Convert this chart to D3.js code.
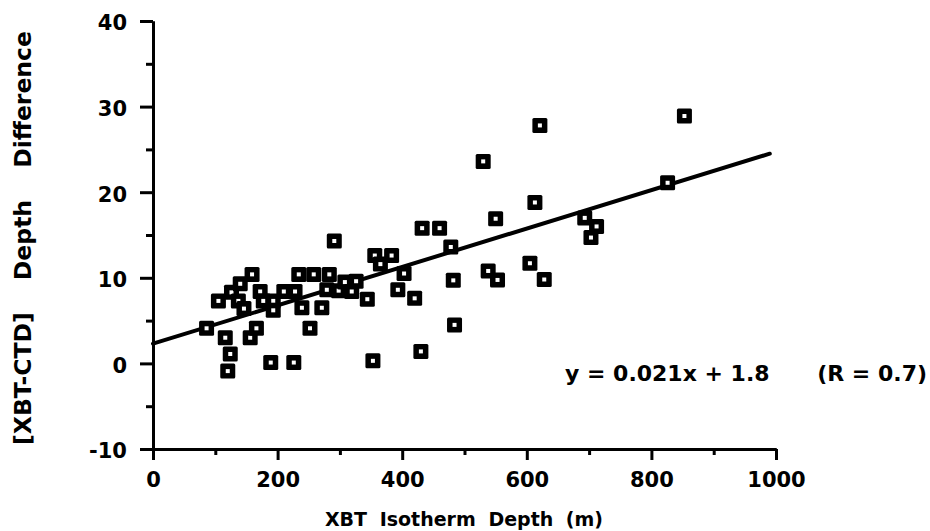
<!DOCTYPE html>
<html><head><meta charset="utf-8">
<script src="https://cdn.jsdelivr.net/npm/d3@7"></script>
<style>body{margin:0;background:#fff}svg{display:block}</style>
</head><body><svg id="c" width="930" height="531"></svg>
<script>
// XBT isotherm depth (m)
const depthX = [86,105,116,124,120,126,137,140,146,159,156,166,172,177,193,193,189,210,228,226,234,239,252,258,271,279,283,291,298,308,319,326,344,353,356,383,365,393,403,420,430,432,460,478,482,484,530,538,550,553,605,613,621,628,693,703,712,826,853];
// [XBT-CTD] depth difference
const diffY = [4.1,7.3,3.0,1.1,-0.9,8.3,7.3,9.3,6.4,10.4,3.0,4.1,8.4,7.3,7.3,6.2,0.1,8.4,8.4,0.1,10.4,6.5,4.1,10.4,6.5,8.6,10.4,14.3,8.5,9.5,8.4,9.6,7.5,0.3,12.6,12.6,11.6,8.6,10.5,7.6,1.4,15.8,15.8,13.6,9.7,4.5,23.6,10.8,16.9,9.75,11.7,18.8,27.8,9.8,17.0,14.7,16.0,21.1,28.9];
// regression line end points
const fitX = [0, 990];
const fitY = [2.3, 24.5];
const xTicks = [0,200,400,600,800,1000];
const xMinor = [100,300,500,700,900];
const yTicks = [-10,0,10,20,30,40];
const yMinor = [-5,5,15,25,35];
const xTitle = "XBT Isotherm Depth (m)";
const yTitle = "[XBT-CTD] Depth Difference";
const eqLabel = "y = 0.021x + 1.8";
const rLabel = "(R = 0.7)";

const FONT = "'DejaVu Sans', sans-serif";
const svg = d3.select("#c");
const x = d3.scaleLinear().domain([0,1000]).range([153,776]);
const y = d3.scaleLinear().domain([-10,40]).range([449,21]);
const fmt = d => String(d);

function styleAxis(g){
  g.select(".domain").attr("stroke","#000").attr("stroke-width",3);
  g.selectAll(".tick line").attr("stroke","#000").attr("stroke-width",3);
  g.selectAll(".tick text").attr("font-family",FONT).attr("font-weight","bold")
   .attr("font-size",21).attr("fill","#000");
}

// minor ticks
svg.append("g").attr("transform",`translate(0,${y(-10)})`)
  .call(d3.axisBottom(x).tickValues(xMinor).tickSize(6).tickSizeOuter(0).tickFormat(""))
  .call(styleAxis);
svg.append("g").attr("transform",`translate(${x(0)},0)`)
  .call(d3.axisLeft(y).tickValues(yMinor).tickSize(7).tickSizeOuter(0).tickFormat(""))
  .call(styleAxis);
// major ticks
const gx = svg.append("g").attr("transform",`translate(0,${y(-10)})`)
  .call(d3.axisBottom(x).tickValues(xTicks).tickSize(11).tickSizeOuter(0).tickFormat(fmt))
  .call(styleAxis);
gx.selectAll(".tick text").attr("dy","0.71em").attr("y",23);
const gy = svg.append("g").attr("transform",`translate(${x(0)},0)`)
  .call(d3.axisLeft(y).tickValues(yTicks).tickSize(13).tickSizeOuter(0).tickPadding(13).tickFormat(fmt))
  .call(styleAxis);
gy.selectAll(".tick text").attr("dy","0.42em");

// regression line
svg.append("line")
  .attr("x1",x(fitX[0])).attr("y1",y(fitY[0]))
  .attr("x2",x(fitX[1])).attr("y2",y(fitY[1]))
  .attr("stroke","#000").attr("stroke-width",4).attr("stroke-linecap","round");

// points
const pts = depthX.map((d,i)=>({x:d,y:diffY[i]}));
const S = 15;
const pg = svg.append("g").selectAll("g").data(pts).join("g")
  .attr("transform",d=>`translate(${x(d.x)},${y(d.y)})`);
pg.append("rect").attr("x",-S/2).attr("y",-S/2).attr("width",S).attr("height",S)
  .attr("rx",1.5).attr("fill","#000");
pg.append("rect").attr("x",-2).attr("y",-2).attr("width",4).attr("height",4).attr("fill","#fff");

// equation
svg.append("text").attr("x",565).attr("y",381).attr("font-family",FONT).attr("font-weight","bold")
  .attr("font-size",22).text(eqLabel);
svg.append("text").attr("x",927).attr("y",381).attr("text-anchor","end").attr("font-family",FONT).attr("font-weight","bold")
  .attr("font-size",22).text(rLabel);

// titles
svg.append("text").attr("x",464).attr("y",526).attr("text-anchor","middle")
  .attr("font-family",FONT).attr("font-weight","bold").attr("font-size",19)
  .style("word-spacing","6px").text(xTitle);
svg.append("text").attr("transform","translate(31,238) rotate(-90)").attr("text-anchor","middle")
  .attr("font-family",FONT).attr("font-weight","bold").attr("font-size",23.5)
  .style("word-spacing","24px").text(yTitle);
</script></body></html>
